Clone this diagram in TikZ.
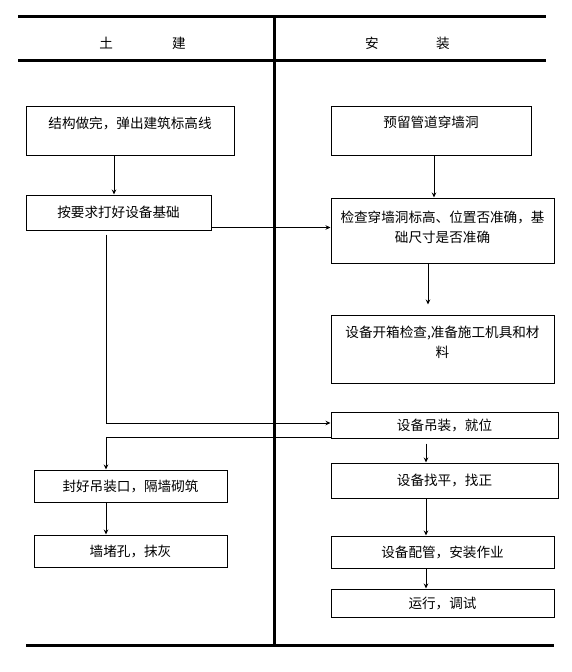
\documentclass[tikz,border=0pt]{standalone}
\usepackage{fontspec}
\setmainfont{Noto Sans CJK SC}
\usepackage{tikz}
\usetikzlibrary{arrows.meta, calc}

\begin{document}
\begin{tikzpicture}[
    x = 1pt, y = -1pt,
    line width = 1pt,
    > = {Stealth[length = 5pt, width = 4.5pt]},
    rule/.style = {line width = 3pt},
    header/.style = {inner sep = 0pt,
      font = \fontsize{13.6pt}{19.5pt}\selectfont,
      text height = 10pt, text depth = 0pt},
    stepbox/.style = {draw,
      align = center,
      inner sep = 0pt,
      font = \fontsize{13.6pt}{19.5pt}\selectfont,
      text height = 10pt, text depth = 0pt}
    ]
    \useasboundingbox (0, 0) rectangle (572, 672);

    \draw [rule] (18, 16) -- (546, 16);
    \draw [rule] (18, 60) -- (546, 60);
    \draw [rule] (274, 16) -- (274, 645);
    \draw [rule] (26, 645) -- (554, 645);

    \node at (142.5, 43) [header, name = civil] {土\hspace{59pt}建};
    \node at (407.5, 43) [header, name = install] {安\hspace{57.4pt}装};

    \node at (130, 130.5) [stepbox, name = levels, minimum width = 208pt,
      minimum height = 49pt, text depth = 15pt] {结构做完，弹出建筑标高线};
    \node at (118.5, 212.5) [stepbox, name = footing, minimum width = 185pt,
      minimum height = 35pt] {按要求打好设备基础};
    \node at (130.5, 486) [stepbox, name = seal, minimum width = 193pt,
      minimum height = 32pt] {封好吊装口，隔墙砌筑};
    \node at (130.5, 551) [stepbox, name = plaster, minimum width = 193pt,
      minimum height = 32pt] {墙堵孔，抹灰};

    \node at (431, 130.5) [stepbox, name = sleeve, minimum width = 200pt,
      minimum height = 49pt, text depth = 17pt] {预留管道穿墙洞};
    \node at (442.5, 230.5) [stepbox, name = check, minimum width = 223pt,
      minimum height = 65pt, text height = 23pt]
      {检查穿墙洞标高、位置否准确，基\\础尺寸是否准确};
    \node at (442.5, 349) [stepbox, name = unpack, minimum width = 223pt,
      minimum height = 68pt, text height = 16pt]
      {设备开箱检查,准备施工机具和材\\料};
    \node at (444.5, 425) [stepbox, name = hoist, minimum width = 227pt,
      minimum height = 26pt] {设备吊装，就位};
    \node at (444.5, 480.5) [stepbox, name = adjust, minimum width = 227pt,
      minimum height = 35pt] {设备找平，找正};
    \node at (442.5, 552) [stepbox, name = piping, minimum width = 223pt,
      minimum height = 32pt] {设备配管，安装作业};
    \node at (442.5, 603) [stepbox, name = trial, minimum width = 223pt,
      minimum height = 28pt] {运行，调试};

    \draw [->] ([xshift = -16pt]levels.south) -- ([xshift = -16pt]levels.south |- footing.north);
    \draw [->] ([yshift = 3pt]footing.south east) -- ([yshift = 3pt]footing.south east -| check.west);
    \draw [->, shorten <= 4pt] ([xshift = -12.5pt]footing.south) |- ([yshift = 2pt]hoist.west);
    \draw [->] ([yshift = 1pt]hoist.south west) -| ([xshift = -24.5pt]seal.north);
    \draw [->] ([xshift = -24.5pt]seal.south) -- ([xshift = -24.5pt]seal.south |- plaster.north);

    \draw [->] ([xshift = 3pt]sleeve.south) -- ([xshift = 3pt]sleeve.south |- check.north);
    \draw [->, shorten > = 10pt] ([xshift = -14.5pt]check.south) -- ([xshift = -14.5pt]check.south |- unpack.north);
    \draw [->, shorten <= 5pt] ([xshift = -18.5pt]hoist.south) -- ([xshift = -18.5pt]hoist.south |- adjust.north);
    \draw [->] ([xshift = -18.5pt]adjust.south) -- ([xshift = -18.5pt]adjust.south |- piping.north);
    \draw [->] ([xshift = -16.5pt]piping.south) -- ([xshift = -16.5pt]piping.south |- trial.north);

  \end{tikzpicture}
\end{document}
